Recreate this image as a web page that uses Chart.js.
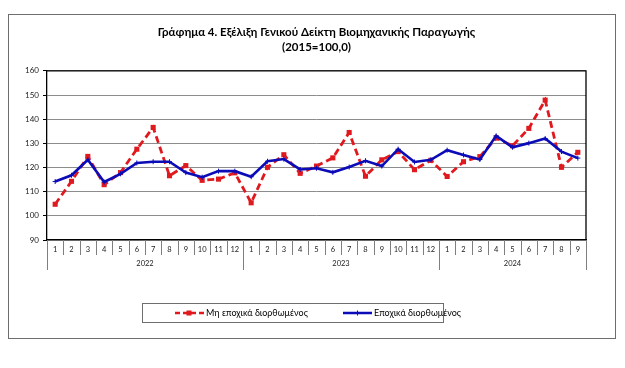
<!DOCTYPE html>
<html>
<head>
<meta charset="utf-8">
<script src="https://cdn.jsdelivr.net/npm/chart.js@4.4.1/dist/chart.umd.min.js"></script>
<style>
  html, body { margin: 0; padding: 0; background: #fff; }
  canvas { display: block; }
</style>
</head>
<body>
<canvas id="c" width="625" height="368"></canvas>
<script>
// ---- Data ----
const months = ['1','2','3','4','5','6','7','8','9','10','11','12',
                '1','2','3','4','5','6','7','8','9','10','11','12',
                '1','2','3','4','5','6','7','8','9'];
const years = ['2022', '2023', '2024'];
const monthsPerYear = [12, 12, 9];
const nonAdjusted = [104.8, 114.3, 124.6, 112.9, 117.9, 127.6, 136.6, 116.6, 120.8, 114.7, 115.2, 117.8,
                     105.4, 120.1, 125.3, 117.6, 120.6, 124.0, 134.5, 116.4, 123.2, 126.6, 119.1, 123.0,
                     116.3, 122.4, 124.5, 132.2, 129.0, 136.2, 147.9, 120.1, 126.3];
const adjusted = [114.2, 116.8, 123.2, 114.0, 117.4, 121.9, 122.4, 122.4, 117.9, 116.0, 118.5, 118.5,
                  116.2, 122.6, 123.5, 119.2, 119.7, 118.0, 120.2, 122.8, 120.6, 127.6, 122.3, 123.2,
                  127.2, 125.2, 123.3, 133.1, 128.4, 130.1, 132.0, 126.6, 123.9];
const seriesNames = ['Μη εποχικά διορθωμένος', 'Εποχικά διορθωμένος'];
const titleLines = ['Γράφημα 4. Εξέλιξη Γενικού Δείκτη Βιομηχανικής Παραγωγής', '(2015=100,0)'];
const yMin = 90, yMax = 160, yStep = 10;

const RED = '#e0191f';
const BLUE = '#0b0bb8';
const FONT = 'Lato, "Noto Sans", sans-serif';

const decor = {
  id: 'decor',
  beforeDraw(chart) {
    const ctx = chart.ctx;
    ctx.save();
    ctx.fillStyle = '#fff';
    ctx.fillRect(0, 0, chart.width, chart.height);
    ctx.strokeStyle = '#6e6e6e';
    ctx.lineWidth = 1;
    ctx.strokeRect(8.5, 14.5, 607, 324);
    ctx.restore();
  },
  afterDraw(chart) {
    const ctx = chart.ctx;
    const x = chart.scales.x, ca = chart.chartArea;
    const w = x.getPixelForValue(1) - x.getPixelForValue(0);
    ctx.save();
    // plot area frame (top, right)
    ctx.strokeStyle = '#000';
    ctx.lineWidth = 1.3;
    ctx.beginPath();
    ctx.moveTo(ca.left, ca.top); ctx.lineTo(ca.right, ca.top); ctx.lineTo(ca.right, ca.bottom);
    ctx.stroke();
    // month separators
    ctx.strokeStyle = '#7f7f7f';
    ctx.lineWidth = 1;
    for (let i = 0; i <= months.length; i++) {
      const px = Math.round(x.getPixelForValue(i) - w / 2) + 0.5;
      ctx.beginPath(); ctx.moveTo(px, ca.bottom); ctx.lineTo(px, ca.bottom + 15); ctx.stroke();
    }
    // year separators + labels
    let start = 0;
    ctx.fillStyle = '#222';
    ctx.font = '7.5px ' + FONT;
    ctx.textAlign = 'center';
    ctx.textBaseline = 'middle';
    for (let k = 0; k <= years.length; k++) {
      const px = Math.round(x.getPixelForValue(start) - w / 2) + 0.5;
      ctx.beginPath(); ctx.moveTo(px, ca.bottom); ctx.lineTo(px, ca.bottom + 30); ctx.stroke();
      if (k < years.length) {
        const end = start + monthsPerYear[k];
        const cx = (x.getPixelForValue(start) + x.getPixelForValue(end - 1)) / 2;
        ctx.fillText(years[k], cx, ca.bottom + 24);
        start = end;
      }
    }
    // legend
    const lx = 142.5, ly = 303.5, lw = 301, lh = 19;
    ctx.strokeStyle = '#6e6e6e';
    ctx.strokeRect(lx, ly, lw, lh);
    const cy = ly + lh / 2;
    ctx.font = '9px ' + FONT;
    ctx.textAlign = 'left';
    ctx.fillStyle = '#000';
    // red item
    ctx.strokeStyle = RED; ctx.lineWidth = 2.5; ctx.setLineDash([5, 3]);
    ctx.beginPath(); ctx.moveTo(175, cy); ctx.lineTo(204, cy); ctx.stroke();
    ctx.setLineDash([]);
    ctx.fillStyle = RED; ctx.fillRect(186.5, cy - 2.5, 5, 5);
    ctx.fillStyle = '#000';
    ctx.fillText(seriesNames[0], 206, cy + 0.5);
    // blue item
    ctx.strokeStyle = BLUE; ctx.lineWidth = 2.5;
    ctx.beginPath(); ctx.moveTo(343, cy); ctx.lineTo(372, cy); ctx.stroke();
    ctx.lineWidth = 1;
    ctx.beginPath(); ctx.moveTo(357.5, cy - 2.5); ctx.lineTo(357.5, cy + 2.5); ctx.stroke();
    ctx.fillStyle = '#000';
    ctx.fillText(seriesNames[1], 374, cy + 0.5);
    ctx.restore();
  }
};

new Chart(document.getElementById('c'), {
  type: 'line',
  data: {
    labels: months,
    datasets: [
      {
        label: seriesNames[0],
        data: nonAdjusted,
        borderColor: RED,
        backgroundColor: RED,
        borderWidth: 2.8,
        borderDash: [7, 4],
        pointStyle: 'rect',
        pointRadius: 3.6,
        pointBorderWidth: 0,
        tension: 0,
        order: 2
      },
      {
        label: seriesNames[1],
        data: adjusted,
        borderColor: BLUE,
        backgroundColor: BLUE,
        borderWidth: 2.6,
        pointStyle: 'cross',
        pointRadius: 2.5,
        pointBorderWidth: 1,
        tension: 0,
        order: 1
      }
    ]
  },
  options: {
    responsive: false,
    animation: false,
    devicePixelRatio: 1,
    layout: { padding: { left: 20, right: 39, top: 25, bottom: 78 } },
    plugins: {
      legend: { display: false },
      tooltip: { enabled: false },
      title: {
        display: true,
        text: titleLines,
        fullSize: false,
        color: '#000',
        font: { family: FONT, size: 11.5, weight: 'bold', lineHeight: 1.3 },
        padding: { top: 0, bottom: 16 }
      }
    },
    scales: {
      x: {
        type: 'category',
        offset: true,
        grid: { display: false, drawTicks: false },
        border: { display: true, color: '#000', width: 1.3 },
        ticks: { autoSkip: false, maxRotation: 0, color: '#222', font: { family: FONT, size: 7.5 }, padding: 5 },
        afterFit(s) { s.height = 50; }
      },
      y: {
        min: yMin, max: yMax,
        ticks: { stepSize: yStep, color: '#222', font: { family: FONT, size: 8 }, padding: 4 },
        grid: { color: '#8c8c8c', lineWidth: 1, tickLength: 4, tickColor: '#000' },
        border: { display: true, color: '#000', width: 1.3 },
        afterFit(s) { s.width = 27; }
      }
    }
  },
  plugins: [decor]
});
</script>
</body>
</html>
